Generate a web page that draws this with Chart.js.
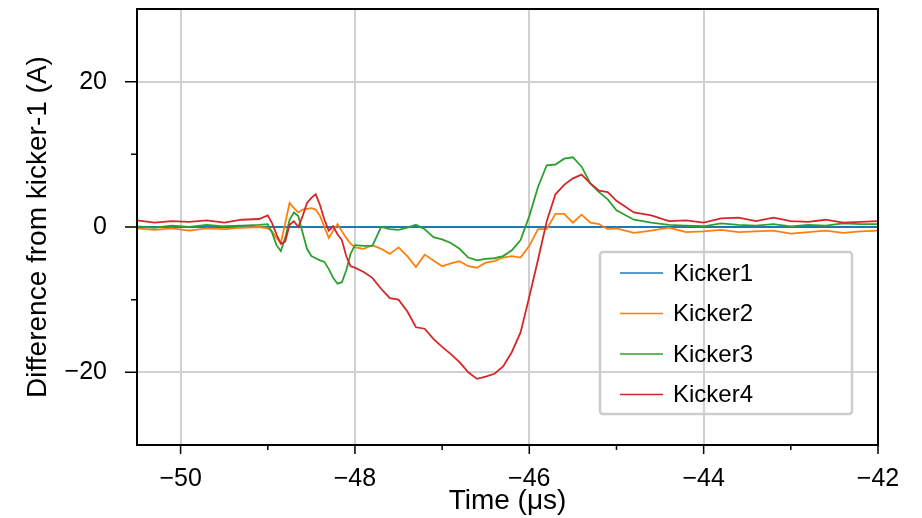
<!DOCTYPE html>
<html>
<head>
<meta charset="utf-8">
<script src="https://cdn.jsdelivr.net/npm/chart.js@4"></script>
<style>
  html, body { margin: 0; padding: 0; background: #fff; }
  #wrap { width: 922px; height: 518px; }
</style>
</head>
<body>
<div id="wrap"><canvas id="kickChart"></canvas></div>
<script>
// time axis (µs) and per-kicker differences (A)
const times = [-50.5, -50.3, -50.1, -49.9, -49.7, -49.5, -49.3, -49.1,
  -49.0, -48.95, -48.9, -48.85, -48.8, -48.75, -48.7, -48.65, -48.6, -48.55, -48.5,
  -48.45, -48.4, -48.35, -48.3, -48.25, -48.2, -48.15, -48.1, -48.05, -48.0,
  -47.9, -47.8, -47.7, -47.6, -47.5, -47.4, -47.3, -47.2, -47.1, -47.0,
  -46.9, -46.8, -46.7, -46.6, -46.5, -46.4, -46.3, -46.2, -46.1, -46.0,
  -45.9, -45.8, -45.7, -45.6, -45.5, -45.4, -45.3, -45.2, -45.1, -45.0,
  -44.8, -44.6, -44.4, -44.2, -44.0, -43.8, -43.6, -43.4, -43.2, -43.0,
  -42.8, -42.6, -42.4, -42.2, -42.0];

const kicker1 = times.map(() => 0);   // reference kicker, difference is zero

const kicker2 = [-0.2, -0.4, -0.2, -0.5, -0.2, -0.3, -0.1, 0.0,
  -0.2, -0.6, -1.5, -2.2, 0.5, 3.3, 2.6, 2.0, 2.4, 2.5, 2.6,
  2.4, 1.5, 0.0, -1.5, -0.5, 0.4, -0.6, -1.5, -2.3, -2.8,
  -3.0, -2.5, -3.0, -3.7, -2.8, -4.0, -5.5, -3.8, -4.6, -5.4,
  -5.0, -4.7, -5.4, -5.6, -4.9, -4.7, -4.2, -4.0, -4.2, -2.6,
  -0.3, -0.3, 1.8, 1.8, 0.6, 1.7, 0.6, 0.4, -0.3, -0.2,
  -0.8, -0.5, -0.1, -0.7, -0.6, -0.4, -0.7, -0.6, -0.5, -0.9,
  -0.7, -0.5, -0.8, -0.6, -0.5];

const kicker3 = [0.1, -0.1, 0.2, 0.0, 0.3, 0.1, 0.2, 0.3,
  0.4, -0.8, -2.5, -3.3, -1.5, 1.0, 2.0, 1.5, -0.8, -3.0, -4.0,
  -4.3, -4.6, -4.8, -5.8, -7.0, -7.8, -7.6, -6.0, -3.7, -2.5,
  -2.6, -2.6, 0.0, -0.3, -0.4, -0.1, 0.3, -0.3, -1.4, -1.7,
  -2.2, -3.0, -4.2, -4.6, -4.4, -4.3, -4.0, -3.2, -1.8, 1.5,
  5.5, 8.5, 8.6, 9.4, 9.6, 8.3, 6.0, 4.8, 3.8, 2.3,
  1.0, 0.6, 0.3, 0.2, 0.1, 0.5, 0.3, 0.2, 0.4, 0.1,
  0.3, 0.2, 0.5, 0.4, 0.4];

const kicker4 = [0.9, 0.6, 0.8, 0.7, 0.9, 0.6, 1.0, 1.1,
  1.6, 0.5, -1.0, -2.3, -2.0, 0.3, 0.8, 0.0, 1.5, 3.3, 4.0,
  4.5, 3.0, 1.0, -0.5, 0.1, -1.0, -1.8, -4.0, -5.4, -5.6,
  -6.2, -7.0, -8.5, -9.8, -10.0, -11.6, -13.8, -14.0, -15.4, -16.5,
  -17.5, -18.6, -20.0, -20.9, -20.6, -20.2, -19.2, -17.2, -14.5, -9.6,
  -4.5, 0.8, 4.5, 5.8, 6.7, 7.2, 6.0, 5.0, 4.8, 3.6,
  2.0, 1.6, 0.8, 0.9, 0.6, 1.2, 1.3, 0.8, 1.3, 0.8,
  0.7, 1.0, 0.6, 0.7, 0.8];

const names = ['Kicker1', 'Kicker2', 'Kicker3', 'Kicker4'];
const colors = ['#1f77b4', '#ff7f0e', '#2ca02c', '#d62728'];

const xTicks = [-50, -48, -46, -44, -42];
const xMinor = [-49, -47, -45, -43];
const yTicks = [-20, 0, 20];
const yMinor = [-10, 10];

const FONT = '"Liberation Sans", Arial, Helvetica, sans-serif';

function fmt(v) {
  return v < 0 ? '\u2212' + Math.abs(v) : String(v);
}

// frame + outward tick marks, matplotlib style
const framePlugin = {
  id: 'frame',
  afterDraw(chart) {
    const { ctx, chartArea: a, scales } = chart;
    ctx.save();
    ctx.strokeStyle = '#000';
    ctx.lineWidth = 1.5;
    ctx.beginPath();
    xTicks.forEach(v => { const p = scales.x.getPixelForValue(v); ctx.moveTo(p, a.bottom); ctx.lineTo(p, a.bottom + 9); });
    xMinor.forEach(v => { const p = scales.x.getPixelForValue(v); ctx.moveTo(p, a.bottom); ctx.lineTo(p, a.bottom + 5); });
    yTicks.forEach(v => { const p = scales.y.getPixelForValue(v); ctx.moveTo(a.left, p); ctx.lineTo(a.left - 12, p); });
    yMinor.forEach(v => { const p = scales.y.getPixelForValue(v); ctx.moveTo(a.left, p); ctx.lineTo(a.left - 6, p); });
    ctx.stroke();
    ctx.lineWidth = 2;
    ctx.strokeRect(a.left, a.top, a.right - a.left, a.bottom - a.top);
    ctx.restore();
  }
};

// legend box inside the plot, lower right
const legendPlugin = {
  id: 'innerLegend',
  afterDraw(chart) {
    const { ctx, chartArea: a } = chart;
    const w = 252, h = 162;
    const x0 = a.right - 26 - w, y0 = a.bottom - 31 - h;
    ctx.save();
    ctx.strokeStyle = '#cccccc';
    ctx.lineWidth = 2.5;
    ctx.beginPath();
    ctx.roundRect(x0, y0, w, h, 3);
    ctx.stroke();
    ctx.font = '24px ' + FONT;
    ctx.textBaseline = 'middle';
    ctx.fillStyle = '#000';
    chart.data.datasets.forEach((ds, i) => {
      const yy = y0 + 21 + i * 40.5;
      ctx.strokeStyle = ds.borderColor;
      ctx.lineWidth = 1.5;
      ctx.beginPath();
      ctx.moveTo(x0 + 20, yy);
      ctx.lineTo(x0 + 63, yy);
      ctx.stroke();
      ctx.fillText(ds.label, x0 + 73, yy + 1);
    });
    ctx.restore();
  }
};

const series = [kicker1, kicker2, kicker3, kicker4];

new Chart(document.getElementById('kickChart'), {
  type: 'line',
  data: {
    datasets: series.map((vals, i) => ({
      label: names[i],
      data: vals.map((v, j) => ({ x: times[j], y: v })),
      borderColor: colors[i],
      borderWidth: i === 0 ? 2 : 1.8,
      pointRadius: 0,
      tension: 0,
      fill: false,
      order: 4 - i
    }))
  },
  options: {
    responsive: true,
    maintainAspectRatio: false,
    animation: false,
    layout: { padding: { top: 9, right: 44, left: 0, bottom: 0 } },
    plugins: {
      legend: { display: false },
      tooltip: { enabled: false }
    },
    scales: {
      x: {
        type: 'linear',
        min: -50.5,
        max: -42,
        afterBuildTicks: s => { s.ticks = xTicks.map(v => ({ value: v })); },
        afterFit: s => { s.height = 73; s.paddingLeft = 0; s.paddingRight = 0; },
        grid: { color: '#d0d0d0', lineWidth: 2, drawTicks: false },
        border: { display: false },
        ticks: {
          color: '#000',
          font: { family: FONT, size: 25 },
          padding: 19,
          maxRotation: 0,
          callback: v => fmt(v)
        },
        title: {
          display: true,
          text: 'Time (\u03bcs)',
          color: '#000',
          font: { family: FONT, size: 28 },
          padding: { top: 0, bottom: 0 }
        }
      },
      y: {
        min: -30,
        max: 30,
        afterBuildTicks: s => { s.ticks = yTicks.map(v => ({ value: v })); },
        afterFit: s => { s.width = 137; s.paddingTop = 0; s.paddingBottom = 0; },
        grid: { color: '#d0d0d0', lineWidth: 2, drawTicks: false },
        border: { display: false },
        ticks: {
          color: '#000',
          font: { family: FONT, size: 25 },
          padding: 30,
          callback: v => fmt(v)
        },
        title: {
          display: true,
          text: 'Difference from kicker-1 (A)',
          color: '#000',
          font: { family: FONT, size: 28 },
          padding: { top: 21, bottom: 0 }
        }
      }
    }
  },
  plugins: [framePlugin, legendPlugin]
});
</script>
</body>
</html>
